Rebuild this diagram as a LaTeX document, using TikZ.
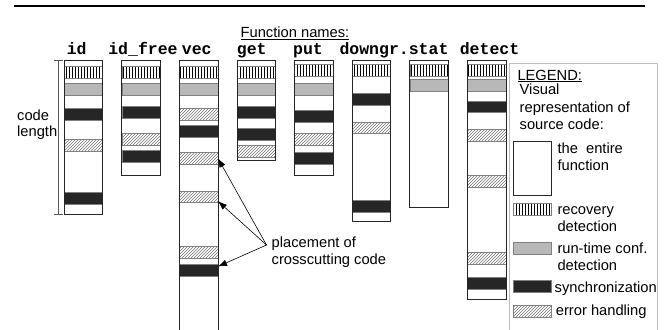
\documentclass[tikz,border=0pt]{standalone}
\usepackage{fontspec}
\setmainfont{Liberation Sans}
\setmonofont{Liberation Mono}
\usetikzlibrary{patterns,arrows.meta,calc}
\tikzset{
 colbox/.style={draw=black!85, line width=0.9pt, fill=white, inner sep=0, outer sep=0, minimum width=38.5pt, anchor=north west},
 bandbase/.style={draw=black!50, line width=0.7pt, inner sep=0, outer sep=0, minimum width=38.5pt, minimum height=11.7pt, anchor=north west},
 rec/.style={bandbase, pattern=vertical lines},
 rtc/.style={bandbase, fill=black!28},
 syn/.style={bandbase, fill=black!85},
 err/.style={bandbase, pattern=north east lines, pattern color=black!55},
 lbl/.style={inner sep=0, anchor=base west, font=\fontsize{14.7}{17.3}\selectfont},
 fname/.style={inner sep=0, anchor=base, font=\fontsize{16.5}{18}\selectfont\ttfamily\bfseries},
 arr/.style={-{Latex[length=9pt,width=6.5pt]}, line width=0.6pt},
 outl/.style={draw=black!85, line width=0.9pt},
}
\begin{document}
\begin{tikzpicture}[x=1pt,y=-1pt]
\useasboundingbox (0,0) rectangle (666,329);
\clip (0,0) rectangle (666,329);
% top rule
\draw[line width=2.3pt] (14,5.8) -- (645,5.8);
% titles
\node[lbl, anchor=base] (title) at (295,37.5) {\underline{Function names:}};
\node[fname] (nid) at (76.7,55) {id};
\node[fname] (nidf) at (143,55) {id\_free};
\node[fname] (nvec) at (196.7,55) {vec};
\node[fname] (nget) at (251.7,55) {get};
\node[fname] (nput) at (308,55) {put};
\node[fname] (ndown) at (394,55) {downgr.stat};
\node[fname] (ndet) at (489.5,55) {detect};
% columns
\node[colbox, minimum height=153.6pt] (cid) at (64.3,60.7) {};
\node[colbox, minimum height=115pt] (cidf) at (121.9,60.7) {};
\node[colbox, minimum height=279.3pt] (cvec) at (179.5,60.7) {};
\node[colbox, minimum height=99.6pt] (cget) at (237.1,60.7) {};
\node[colbox, minimum height=115pt] (cput) at (294.7,60.7) {};
\node[colbox, minimum height=161pt] (cdown) at (352.3,60.7) {};
\node[colbox, minimum height=146.3pt] (cstat) at (409.9,60.7) {};
\node[colbox, minimum height=238.3pt] (cdet) at (467.5,60.7) {};
% id
\node[rec] (a1) at (64.3,66.3) {};
\node[rtc] (a2) at (64.3,83.5) {};
\node[syn] (a3) at (64.3,108.5) {};
\node[err] (a4) at (64.3,139.2) {};
\node[syn] (a5) at (64.3,192.8) {};
% id_free
\node[rec] (b1) at (121.9,66.3) {};
\node[rtc] (b2) at (121.9,83.5) {};
\node[syn] (b3) at (121.9,106.5) {};
\node[err] (b4) at (121.9,133.5) {};
\node[syn] (b5) at (121.9,150.7) {};
% vec
\node[rec] (v1) at (179.5,66.3) {};
\node[rtc] (v2) at (179.5,83.5) {};
\node[err] (v3) at (179.5,108.5) {};
\node[syn] (v4) at (179.5,125.5) {};
\node[err] (v5) at (179.5,152.5) {};
\node[err] (v6) at (179.5,191) {};
\node[err] (v7) at (179.5,246.3) {};
\node[syn] (v8) at (179.5,264.5) {};
% get
\node[rec] (g1) at (237.1,66.3) {};
\node[rtc] (g2) at (237.1,83.5) {};
\node[syn] (g3) at (237.1,106.5) {};
\node[syn] (g4) at (237.1,128.3) {};
\node[err] (g5) at (237.1,145.3) {};
% put
\node[rec] (p1) at (294.7,64.3) {};
\node[rtc] (p2) at (294.7,83.5) {};
\node[syn] (p3) at (294.7,110.3) {};
\node[err] (p4) at (294.7,133.5) {};
\node[syn] (p5) at (294.7,152.7) {};
% downgr
\node[rec] (d1) at (352.3,64.3) {};
\node[syn] (d2) at (352.3,93.7) {};
\node[err] (d3) at (352.3,122) {};
\node[syn] (d4) at (352.3,200.7) {};
% stat
\node[rec] (s1) at (409.9,64.3) {};
\node[rtc] (s2) at (409.9,79.3) {};
% detect
\node[rec] (t1) at (467.5,64.3) {};
\node[rtc] (t2) at (467.5,79.3) {};
\node[syn] (t3) at (467.5,101) {};
\node[err] (t4) at (467.5,129.7) {};
\node[err] (t5) at (467.5,175.7) {};
\node[err] (t6) at (467.5,252.5) {};
\node[syn] (t7) at (467.5,277.7) {};
% column outlines on top
\foreach \c in {cid,cidf,cvec,cget,cput,cdown,cstat,cdet}
  \draw[outl] (\c.north west) rectangle (\c.south east);
% code length bracket
\draw[black!65, line width=0.8pt] ($(cid.north west)+(-5.6,0)$) -- ($(cid.south west)+(-5.6,0)$);
\draw[black!65, line width=0.8pt] ($(cid.north west)+(-10,0)$) -- ($(cid.north west)+(-1,0)$);
\draw[black!65, line width=0.8pt] ($(cid.south west)+(-10,0)$) -- ($(cid.south west)+(-1,0)$);
\node[lbl] (code) at (17,120) {code};
\node[lbl] (len) at (17,136.5) {length};
% arrows
\coordinate (pc) at (266.5,245);
\draw[arr] (pc) -- (v5.east);
\draw[arr] (pc) -- ($(v6.south east)+(0,-1.5)$);
\draw[arr] (pc) -- ($(v8.north east)+(0,2)$);
\node[lbl] (pl1) at (271.5,247.3) {placement of};
\node[lbl] (pl2) at (271.5,264.6) {crosscutting code};
% legend
\draw[draw=black!25, line width=0.8pt] (509,335) -- (509,63.3) -- (657.7,63.3) -- (657.7,335);
\node[lbl] (lg) at (517.3,80) {\underline{LEGEND:}};
\node[lbl] (lg1) at (519.5,94.7) {Visual};
\node[lbl] (lg2) at (519.5,112) {representation of};
\node[lbl] (lg3) at (519.5,129.3) {source code:};
\node[bandbase, draw=black!85, fill=white, minimum width=38.4pt, minimum height=53.3pt] (lw) at (513.3,141.7) {};
\node[lbl] (lwt1) at (557.3,153.3) {the\ \ entire};
\node[lbl] (lwt2) at (557.3,170.3) {function};
\node[rec, minimum width=38.4pt] (lr) at (513.3,203.3) {};
\node[lbl] (lrt1) at (557.3,214) {recovery};
\node[lbl] (lrt2) at (557.3,231) {detection};
\node[rtc, minimum width=38.4pt] (lc) at (513.3,242.7) {};
\node[lbl] (lct1) at (557.3,253.3) {run-time conf.};
\node[lbl] (lct2) at (557.3,270.3) {detection};
\node[syn, minimum width=38.4pt] (ls) at (513.3,280.7) {};
\node[lbl] (lst) at (554.5,292.3) {synchronization};
\node[err, minimum width=38.4pt] (le) at (513.3,305.7) {};
\node[lbl] (let) at (555.7,315.3) {error handling};
\end{tikzpicture}
\end{document}
